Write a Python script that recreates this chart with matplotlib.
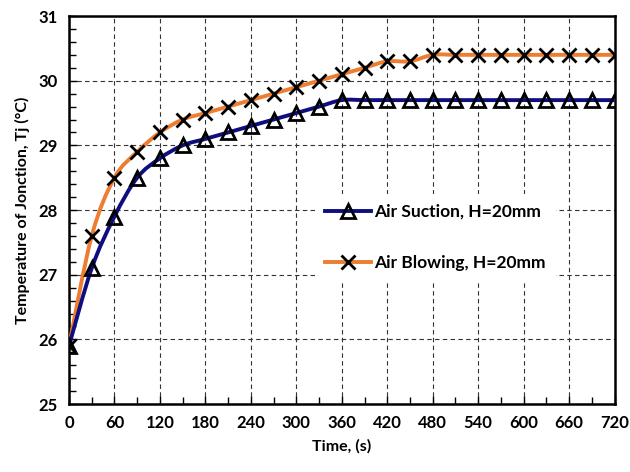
import numpy as np
import matplotlib.pyplot as plt
from matplotlib.path import Path
from matplotlib.patches import PathPatch
from matplotlib.lines import Line2D
from matplotlib.ticker import MultipleLocator

# Data
time_s = [0, 30, 60, 90, 120, 150, 180, 210, 240, 270, 300, 330, 360, 390,
          420, 450, 480, 510, 540, 570, 600, 630, 660, 690, 720]
suction = [25.9, 27.1, 27.9, 28.5, 28.8, 29.0, 29.1, 29.2, 29.3, 29.4, 29.5, 29.6, 29.7, 29.7,
           29.7, 29.7, 29.7, 29.7, 29.7, 29.7, 29.7, 29.7, 29.7, 29.7, 29.7]
blowing = [25.9, 27.6, 28.5, 28.9, 29.2, 29.4, 29.5, 29.6, 29.7, 29.8, 29.9, 30.0, 30.1, 30.2,
           30.3, 30.3, 30.4, 30.4, 30.4, 30.4, 30.4, 30.4, 30.4, 30.4, 30.4]

plt.rcParams['font.family'] = ['Lato', 'DejaVu Sans']
plt.rcParams['font.weight'] = 'bold'


def smooth_path(x, y):
    # Excel-style smoothed line: cubic Bezier segments through the points
    x = np.asarray(x, float)
    y = np.asarray(y, float)
    verts = [(x[0], y[0])]
    codes = [Path.MOVETO]
    n = len(x)
    for i in range(n - 1):
        p0 = np.array([x[max(i - 1, 0)], y[max(i - 1, 0)]])
        p1 = np.array([x[i], y[i]])
        p2 = np.array([x[i + 1], y[i + 1]])
        p3 = np.array([x[min(i + 2, n - 1)], y[min(i + 2, n - 1)]])
        c1 = p1 + (p2 - p0) / 6.0
        c2 = p2 - (p3 - p1) / 6.0
        verts += [tuple(c1), tuple(c2), tuple(p2)]
        codes += [Path.CURVE4] * 3
    return Path(verts, codes)


fig = plt.figure(figsize=(6.3, 4.72), dpi=100)
ax = fig.add_axes([0.1095, 0.144, 0.866, 0.822])

blue = '#0E0E80'
orange = '#ED7D31'

ax.add_patch(PathPatch(smooth_path(time_s, blowing), fill=False, edgecolor=orange, lw=2.8, zorder=3))
ax.add_patch(PathPatch(smooth_path(time_s, suction), fill=False, edgecolor=blue, lw=2.8, zorder=3))
ax.plot(time_s, suction, ls='none', marker='^', ms=10, mfc='none', mec='black', mew=2, zorder=4)
ax.plot(time_s, blowing, ls='none', marker='x', ms=10, mec='black', mew=2, zorder=4)

ax.set_xlim(0, 720)
ax.set_ylim(25, 31)
ax.xaxis.set_major_locator(MultipleLocator(60))
ax.xaxis.set_minor_locator(MultipleLocator(30))
ax.yaxis.set_major_locator(MultipleLocator(1))
ax.yaxis.set_minor_locator(MultipleLocator(0.2))
ax.tick_params(which='both', direction='in', labelsize=12)
ax.tick_params(which='major', length=6, width=1, pad=8)
ax.tick_params(which='minor', length=5, width=1)
ax.grid(which='major', ls='--', color='#333333', lw=0.8, dashes=(4, 3))
for s in ax.spines.values():
    s.set_linewidth(1.8)

ax.set_xlabel('Time, (s)', fontsize=11.5, fontweight='bold', labelpad=6)
ax.set_ylabel('Temperature of Jonction, Tj (\u00b0C)', fontsize=11.5, fontweight='bold', labelpad=6)

handles = [
    Line2D([], [], color=blue, lw=2.8, marker='^', ms=10, mfc='none', mec='black', mew=2),
    Line2D([], [], color=orange, lw=2.8, marker='x', ms=10, mec='black', mew=2),
]
leg = ax.legend(handles, ['Air Suction, H=20mm', 'Air Blowing, H=20mm'],
                loc='upper left', bbox_to_anchor=(0.435, 0.565), frameon=True,
                fontsize=12.5, labelspacing=2.0, handlelength=2.6, handletextpad=0.2,
                borderpad=0.6, framealpha=1)
leg.get_frame().set_edgecolor('white')
leg.get_frame().set_linewidth(0)
leg.set_zorder(5)

fig.savefig('out.png', dpi=100)
